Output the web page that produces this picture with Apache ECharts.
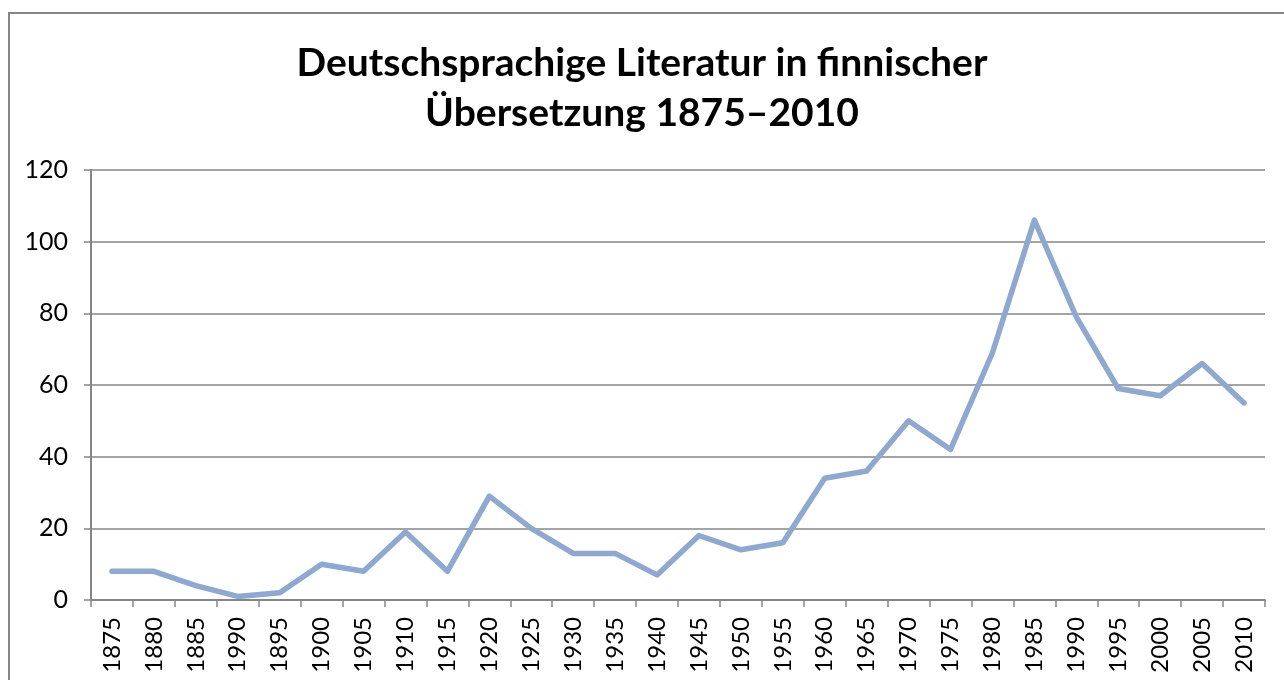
<!DOCTYPE html>
<html>
<head>
<meta charset="utf-8">
<script src="https://cdn.jsdelivr.net/npm/echarts@6/dist/echarts.min.js"></script>
<style>
  html, body { margin: 0; padding: 0; background: #fff; }
  #chart { width: 1284px; height: 680px; }
</style>
</head>
<body>
<div id="chart"></div>
<script>
// Jahre (Beschriftung wie im Original, inkl. "1990" an vierter Stelle)
const years = ["1875", "1880", "1885", "1990", "1895", "1900", "1905", "1910", "1915", "1920",
  "1925", "1930", "1935", "1940", "1945", "1950", "1955", "1960", "1965", "1970",
  "1975", "1980", "1985", "1990", "1995", "2000", "2005", "2010"];
const counts = [8, 8, 4, 1, 2, 10, 8, 19, 8, 29,
  20, 13, 13, 7, 18, 14, 16, 34, 36, 50,
  42, 69, 106, 79, 59, 57, 66, 55];
const titleText = "Deutschsprachige Literatur in finnischer\nÜbersetzung 1875–2010";

const chart = echarts.init(document.getElementById("chart"));
const gray = "#868686";
const font = "Lato, 'Open Sans', sans-serif";

chart.setOption({
  animation: false,
  textStyle: { fontFamily: font },
  title: {
    text: titleText,
    left: "center",
    top: 33,
    textStyle: { fontSize: 39, fontWeight: "bold", color: "#000", lineHeight: 50, fontFamily: font }
  },
  graphic: [{
    type: "rect",
    shape: { x: 9, y: 13, width: 1320, height: 720 },
    style: { fill: null, stroke: gray, lineWidth: 2 },
    silent: true
  }],
  grid: { left: 91, right: 19, top: 170, bottom: 80, containLabel: false },
  xAxis: {
    type: "category",
    data: years,
    boundaryGap: true,
    axisLine: { lineStyle: { color: gray, width: 2 } },
    axisTick: { show: true, length: 7, alignWithLabel: false, lineStyle: { color: gray, width: 1.5 } },
    axisLabel: { rotate: 90, fontSize: 24, color: "#000", margin: 17, interval: 0 }
  },
  yAxis: {
    type: "value",
    min: 0,
    max: 120,
    interval: 20,
    axisLine: { show: true, lineStyle: { color: gray, width: 2 } },
    axisTick: { show: true, length: 7, lineStyle: { color: gray, width: 1.5 } },
    axisLabel: { fontSize: 25, color: "#000", margin: 23 },
    splitLine: { lineStyle: { color: gray, width: 1.5 } }
  },
  series: [{
    type: "line",
    data: counts,
    symbol: "none",
    lineStyle: { color: "#8EA8D0", width: 5.5, cap: "round", join: "round" }
  }]
});
</script>
</body>
</html>
